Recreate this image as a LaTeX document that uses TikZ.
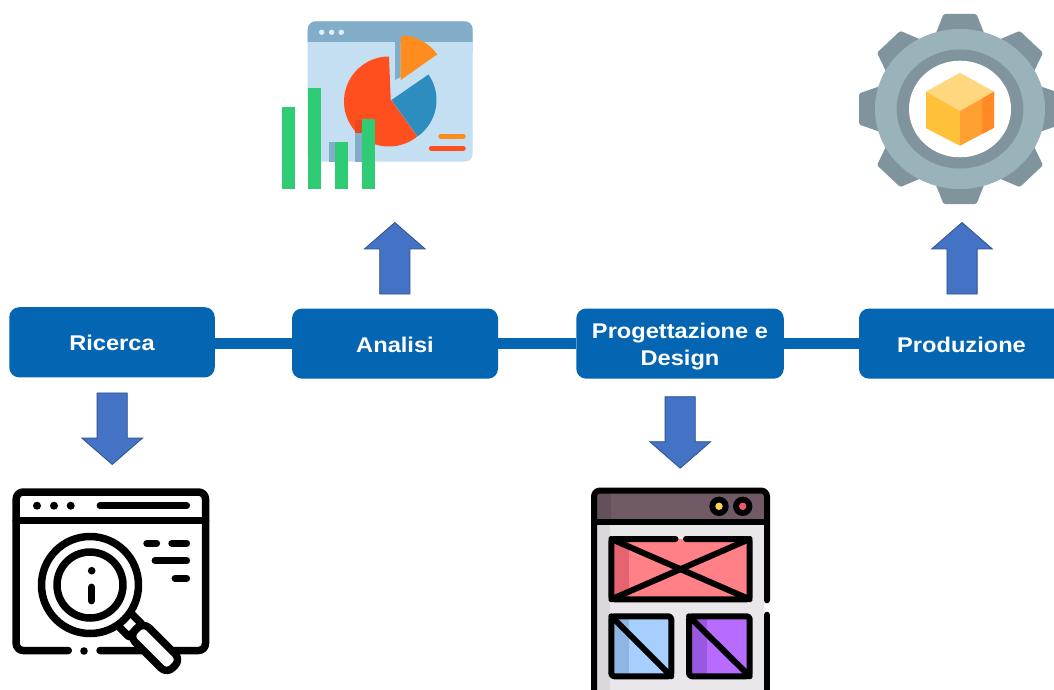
\documentclass[tikz,border=0pt]{standalone}
\usepackage{fontspec}
\setmainfont{Liberation Sans}[FakeStretch=1.11]
\usetikzlibrary{shapes.arrows}
\definecolor{boxblue}{HTML}{0465B2}
\definecolor{arrfill}{HTML}{4472C4}
\definecolor{arredge}{HTML}{2F528F}
\definecolor{winbg}{HTML}{C4DFF2}
\definecolor{winbar}{HTML}{82ADC8}
\definecolor{dotlt}{HTML}{E3EEF6}
\definecolor{piered}{HTML}{FF4F1F}
\definecolor{piereddk}{HTML}{E8481F}
\definecolor{pieblue}{HTML}{2E8DBF}
\definecolor{pieorange}{HTML}{FF8C1E}
\definecolor{barcol}{HTML}{2FCB75}
\definecolor{gearlt}{HTML}{9AB3BB}
\definecolor{geardk}{HTML}{7F949C}
\definecolor{cubetop}{HTML}{FFD77F}
\definecolor{cubeleft}{HTML}{FFC13A}
\definecolor{cuberight}{HTML}{FFA030}
\definecolor{cubeedge}{HTML}{FF8A25}
\definecolor{titlebar}{HTML}{6F5A66}
\definecolor{titledk}{HTML}{62505A}
\definecolor{pagebg}{HTML}{E9E7E9}
\definecolor{pagedk}{HTML}{DAD8DA}
\definecolor{wirepink}{HTML}{FF8087}
\definecolor{wirepinkdk}{HTML}{E5646F}
\definecolor{wireblue}{HTML}{A6CFFF}
\definecolor{wirebluedk}{HTML}{8FB5E5}
\definecolor{wirepurple}{HTML}{B86BFF}
\definecolor{wirepurpledk}{HTML}{9A58E0}
\definecolor{lampyellow}{HTML}{FFD54F}
\definecolor{lampred}{HTML}{E8596A}
\newcommand{\liftline}[1]{\rule{0pt}{#1pt}}
\tikzset{
  stagebox/.style={rectangle,rounded corners=10,fill=boxblue,text=white,font=\fontsize{21.3}{27}\selectfont\bfseries,align=center,inner sep=0pt,minimum height=70.2,minimum width=206},
  linkline/.style={draw=boxblue,line width=11},
  blockarrow/.style={single arrow,fill=arrfill,draw=arredge,line width=0.8,inner xsep=0pt,inner ysep=14.7pt,minimum height=71.5,minimum width=60,single arrow head extend=15.3,single arrow tip angle=98,anchor=tip},
  ink/.style={draw=black,line width=7.5,line cap=round,line join=round},
  inkthin/.style={draw=black,line width=6.8,line cap=round,line join=round},
  wire/.style={draw=black,line width=6,line cap=round,line join=round}
}
\begin{document}
\begin{tikzpicture}[x=1pt,y=-1pt]
\useasboundingbox (0,0) rectangle (1054,690);
\fill[white] (0,0) rectangle (1054,690);
\clip (0,0) rectangle (1054,690);
% stages
\node[stagebox,minimum width=205.5] (ricerca) at (112,342.3) {\liftline{17.4}Ricerca};
\node[stagebox] (analisi) at (395,343.6) {\liftline{17.4}Analisi};
\node[stagebox,minimum width=207.5] (progetto) at (680,343.6) {\liftline{20.7}Progettazione e\\Design};
\node[stagebox,minimum width=205] (produzione) at (961.5,343.6) {\liftline{17.4}Produzione};
\draw[linkline] (analisi.west) -- (analisi.west -| ricerca.east);
\draw[linkline] (analisi.east) -- (progetto.west);
\draw[linkline] (progetto.east) -- (produzione.west);
% block arrows
\node[blockarrow,rotate=-90] (arrowA) at (112.2,465) {};
\node[blockarrow,rotate=-90] (arrowB) at (680.2,468.7) {};
\node[blockarrow,rotate=90] (arrowC) at (394.8,222) {};
\node[blockarrow,rotate=90] (arrowD) at (962,222) {};
% --- chart icon
\fill[winbg,rounded corners=8] (307.7,21.3) rectangle (472.7,161.7);
\fill[winbar,rounded corners=8] (307.7,50) -- (307.7,21.3) -- (472.7,21.3) -- (472.7,50) -- cycle;
\fill[winbg] (307.7,42.3) rectangle (472.7,52);
\foreach \dx in {321.7,331.7,341.3} \fill[dotlt] (\dx,32.3) circle (2.7);
\fill[winbar] (329.3,141.7) rectangle (348.3,161.7);
\fill[winbar] (395,42) -- (400.7,42) -- (400.7,77) -- (395,80) -- cycle;
\fill[piered] (390.7,99.3) -- plot[domain=-90:-309,samples=60,variable=\t] ({389+45*cos(\t)},{101.5+45*sin(\t)}) -- cycle;
\fill[pieblue] (391.5,100) -- plot[domain=-35:55,samples=40,variable=\t] ({392+44.5*cos(\t)},{100+44.5*sin(\t)}) -- cycle;
\fill[pieorange] (400.7,80) -- (400.7,36.7) -- plot[domain=-85:-35,samples=30,variable=\t] ({400.7+44.5*cos(\t)},{80+44.5*sin(\t)}) -- cycle;
\fill[winbar] (355.3,133) rectangle (361.7,161.7);
\fill[piereddk] (355.3,120) rectangle (361.7,133);
\foreach \xa/\xb/\ya in {282/295.3/106.7,307.7/321.3/88.3,335/348.3/141.7,361.7/375/119.3}
  \fill[barcol] (\xa,\ya) rectangle (\xb,189);
\draw[pieorange,line width=5.5,line cap=round] (441,136.3) -- (463,136.3);
\draw[piered,line width=5.5,line cap=round] (431.5,148.3) -- (463,148.3);
% --- gear icon
\foreach \a in {0,45,...,315}
  \fill[geardk,rounded corners=1.5,shift={(960,109)},xscale=1.0625,rotate=\a] (-23,-75) -- (-15.5,-95) -- (15.5,-95) -- (23,-75) -- cycle;
\fill[gearlt] (960,109) ellipse [x radius=85,y radius=80];
\fill[geardk] (960,109) ellipse [x radius=63.3,y radius=59.5];
\fill[white] (960,109) ellipse [x radius=51,y radius=48.3];
\fill[cubetop] (960,72.7) -- (994,91.7) -- (960,111) -- (926,91.7) -- cycle;
\fill[cubeleft] (926,91.7) -- (960,111) -- (960,145.7) -- (926,128.3) -- cycle;
\fill[cuberight] (960,111) -- (994,91.7) -- (994,127.7) -- (960,145.7) -- cycle;
\fill[cubeedge] (982.3,98.4) -- (994,91.7) -- (994,127.7) -- (982.3,133.9) -- cycle;
% --- search icon
\draw[ink,rounded corners=7] (68.3,650.5) -- (16.2,650.5) -- (16.2,492) -- (205.5,492) -- (205.5,650.5) -- (100,650.5);
\draw[ink] (16.2,520.5) -- (205.5,520.5);
\fill (84,651) circle (3.8);
\foreach \dx in {37,54,70.7} \fill (\dx,505.7) circle (4);
\draw[inkthin] (100,505.7) -- (186.7,505.7);
\draw[inkthin] (146.7,543.3) -- (156.7,543.3);
\draw[inkthin] (171.7,543.3) -- (186.7,543.3);
\draw[inkthin] (155,560.7) -- (186.7,560.7);
\draw[inkthin] (175,578.3) -- (186.7,578.3);
\begin{scope}[shift={(90,585)},rotate=-45]
  \draw[ink,fill=white] (48,-9) rectangle (64,9);
  \draw[ink,fill=white,rounded corners=8] (64,-11.5) rectangle (117,8.5);
\end{scope}
\draw[ink,fill=white] (90,585) circle (48.5);
\draw[ink] (90,585) circle (33);
\fill (91.7,570.7) circle (3.8);
\draw[ink] (91.5,587.3) -- (91.5,600.7);
% --- wireframe icon
\fill[pagebg] (597,525) rectangle (764,690);
\fill[pagedk] (597,525) rectangle (610,690);
\fill[titlebar] (597,493) rectangle (764,522);
\fill[titledk] (597,493) rectangle (611,522);
\draw[wire,rounded corners=6] (594,692) -- (594,490.5) -- (767,490.5) -- (767,600.3);
\draw[wire] (767,614.7) -- (767,692);
\draw[wire] (594,522.3) -- (767,522.3);
\foreach \cx/\cc in {719/lampyellow,742.7/lampred} {
  \fill[black] (\cx,506.3) circle (9.7);
  \fill[\cc] (\cx,506.3) circle (3.7);
}
\fill[wirepink] (611.3,539) rectangle (749.7,599.3);
\fill[wirepinkdk] (611.3,539) rectangle (629,599.3);
\draw[wire,rounded corners=3] (675.5,539) -- (611.3,539) -- (611.3,599.3) -- (749.7,599.3) -- (749.7,539) -- (686,539);
\draw[wire] (611.3,539) -- (749.7,599.3);
\draw[wire] (749.7,539) -- (611.3,599.3);
\fill[wireblue] (611.3,616.3) rectangle (671.3,676.3);
\fill[wirebluedk] (611.3,616.3) rectangle (629,676.3);
\draw[wire,rounded corners=3] (611.3,616.3) rectangle (671.3,676.3);
\draw[wire] (611.3,616.3) -- (671.3,676.3);
\fill[wirepurple] (689,616.3) rectangle (749.7,676.3);
\fill[wirepurpledk] (689,616.3) rectangle (706.7,676.3);
\draw[wire,rounded corners=3] (689,616.3) rectangle (749.7,676.3);
\draw[wire] (689,616.3) -- (749.7,676.3);
\end{tikzpicture}
\end{document}
